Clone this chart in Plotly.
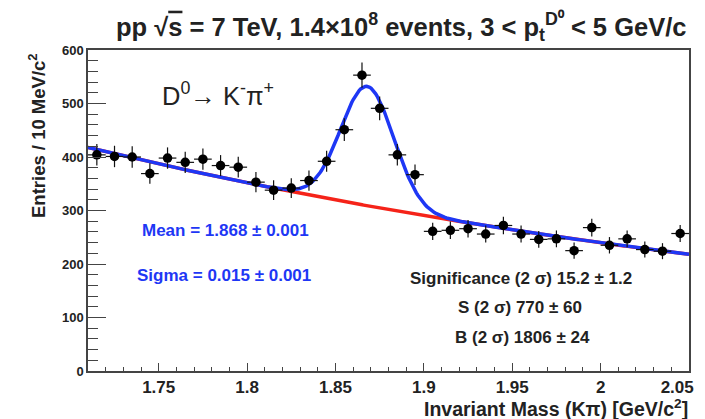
import numpy as np
import plotly.graph_objects as go

# ---- data ----
bin_centers = [round(1.715 + 0.01 * i, 3) for i in range(34)]
counts = [404, 401, 400, 369, 398, 390, 396, 384, 381, 353, 338, 342, 356, 392,
          451, 553, 491, 404, 367, 261, 263, 266, 256, 272, 256, 246, 247, 225,
          268, 235, 247, 227, 224, 257]
bin_half_width = 0.005

fit_mean = 1.868
fit_sigma = 0.015
fit_amp = 223.0
bkg_norm = 418.0      # background value at x = 1.71
bkg_slope = 1.915     # exponential slope

x_tickvals = [1.75, 1.8, 1.85, 1.9, 1.95, 2.0, 2.05]
x_ticktext = ["1.75", "1.8", "1.85", "1.9", "1.95", "2", "2.05\u00a0\u00a0\u00a0\u00a0\u00a0"]
y_tickvals = [0, 100, 200, 300, 400, 500, 600]
y_ticktext = ["0", "100", "200", "300", "400", "500", "600"]

FONT = "Liberation Sans, Arial, sans-serif"
BLUE = "rgb(30,55,245)"
RED = "rgb(245,35,25)"
TXT = "#222222"
AX = "#444444"

errs = [np.sqrt(c) for c in counts]

xf = np.linspace(1.71, 2.05, 400)
bkg = bkg_norm * np.exp(-bkg_slope * (xf - 1.71))
tot = bkg + fit_amp * np.exp(-0.5 * ((xf - fit_mean) / fit_sigma) ** 2)

fig = go.Figure()
fig.add_trace(go.Scatter(x=xf, y=bkg, mode="lines",
                         line=dict(color=RED, width=3.5), hoverinfo="skip"))
fig.add_trace(go.Scatter(x=xf, y=tot, mode="lines",
                         line=dict(color=BLUE, width=3.5), hoverinfo="skip"))
fig.add_trace(go.Scatter(
    x=bin_centers, y=counts, mode="markers",
    marker=dict(color="black", size=9.5),
    error_y=dict(type="data", array=errs, width=0, thickness=1.2, color="#111"),
    error_x=dict(type="constant", value=bin_half_width, width=0, thickness=1.2, color="#111"),
))

# page has an 8px body margin: figure is 697x411 placed at (8, 8)
fig.update_layout(
    width=697, height=411,
    margin=dict(l=80, r=16, t=42, b=48),
    paper_bgcolor="white", plot_bgcolor="white",
    showlegend=False,
    font=dict(family=FONT, color=TXT),
)
fig.update_xaxes(
    range=[1.71, 2.0500001], showgrid=False, zeroline=False, automargin=False,
    showline=True, linecolor=AX, linewidth=1.5, mirror=True,
    ticks="inside", ticklen=8, tickwidth=1.2, tickcolor=AX,
    tickvals=x_tickvals, ticktext=x_ticktext, ticklabeloverflow="allow",
    tickfont=dict(family=FONT, size=17, color=TXT, weight="bold"),
    minor=dict(ticks="inside", ticklen=4, dtick=0.01, tick0=1.71, tickcolor=AX, tickwidth=1.1),
)
fig.update_yaxes(
    range=[0, 600], showgrid=False, zeroline=False, automargin=False,
    showline=True, linecolor=AX, linewidth=1.5, mirror=True,
    ticks="inside", ticklen=18, tickwidth=1.2, tickcolor=AX,
    tickvals=y_tickvals, ticktext=y_ticktext,
    tickfont=dict(family=FONT, size=13, color=TXT, weight="bold"),
    minor=dict(ticks="inside", ticklen=10, dtick=20, tick0=0, tickcolor=AX, tickwidth=1.1),
)

def ann(text, x, y, size, color=TXT, bold=True, xanchor="center", angle=0, yanchor="middle"):
    fig.add_annotation(text=text, x=x, y=y, xref="paper", yref="paper",
                       showarrow=False, xanchor=xanchor, yanchor=yanchor, textangle=angle,
                       font=dict(family=FONT, size=size, color=color,
                                 weight="bold" if bold else "normal"))

# page-pixel -> paper fraction (plot area spans x 88..689, y 50..371 in page pixels)
def px(xp):
    return (xp - 88.0) / 601.0

def py(yp):
    return (371.0 - yp) / 321.0

ann("pp √<span style='text-decoration:overline'>s</span> = 7 TeV, 1.4×10<sup>8</sup> events, "
    "3 &lt; p<sub>t</sub><sup>D⁰</sup> &lt; 5 GeV/c", px(401), py(27), 25.5)
ann("Entries / 10 MeV/c<sup>2</sup>", px(37), py(136), 18.5, angle=-90)
ann("Invariant Mass (Kπ) [GeV/c<sup>2</sup>]", px(690), py(408), 19.5, xanchor="right")
ann("D<sup>0</sup>→ K<sup>-</sup>π<sup>+</sup>", px(218), py(94), 25.5, bold=False)
ann("Mean = 1.868 ± 0.001", px(225), py(230), 17, color=BLUE)
ann("Sigma = 0.015 ± 0.001", px(224), py(275), 17, color=BLUE)
ann("Significance (2 σ) 15.2 ± 1.2", px(521), py(278), 17)
ann("S (2 σ) 770 ± 60", px(520), py(307), 17)
ann("B (2 σ) 1806 ± 24", px(522), py(337), 17)

fig.write_html("out.html")
